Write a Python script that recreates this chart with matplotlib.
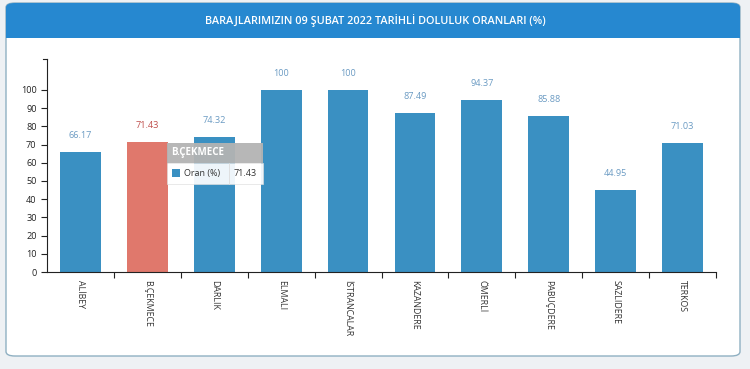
import numpy as np
import matplotlib.pyplot as plt
from matplotlib.patches import FancyBboxPatch, Rectangle

# Data
dams = ['ALİBEY', 'B.ÇEKMECE', 'DARLIK', 'ELMALI', 'İSTRANCALAR',
        'KAZANDERE', 'ÖMERLİ', 'PABUÇDERE', 'SAZLIDERE', 'TERKOS']
oran = [66.17, 71.43, 74.32, 100, 100, 87.49, 94.37, 85.88, 44.95, 71.03]
highlight = 'B.ÇEKMECE'
title = 'BARAJLARIMIZIN 09 ŞUBAT 2022 TARİHLİ DOLULUK ORANLARI (%)'

plt.rcParams['font.family'] = ['Open Sans', 'DejaVu Sans']

W, H = 750, 369
fig = plt.figure(figsize=(7.5, 3.69), dpi=100)
fig.patch.set_facecolor('#eef1f4')

def fx(px):
    return px / W

def fy(py):
    return 1 - py / H

# card
card = FancyBboxPatch((fx(6), fy(356)), fx(740) - fx(6), fy(3) - fy(356),
                      boxstyle='round,pad=0,rounding_size=0.012',
                      transform=fig.transFigure, facecolor='white',
                      edgecolor='#8fb0c2', linewidth=1.0, zorder=-3)
fig.patches.append(card)
# title bar
bar_top = FancyBboxPatch((fx(6), fy(38)), fx(740) - fx(6), fy(3) - fy(38),
                         boxstyle='round,pad=0,rounding_size=0.012',
                         transform=fig.transFigure, facecolor='#2688d0',
                         edgecolor='none', zorder=-2)
fig.patches.append(bar_top)
fig.patches.append(Rectangle((fx(6), fy(38)), fx(740) - fx(6), fy(25) - fy(38),
                             transform=fig.transFigure, facecolor='#2688d0',
                             edgecolor='none', zorder=-2))
fig.text(0.5, fy(21), title, ha='center', va='center', color='white',
         fontsize=7.8, fontweight='semibold')

# axes
ax = fig.add_axes([fx(47), fy(272), fx(716) - fx(47), fy(59) - fy(272)])
ax.set_facecolor('none')
x = np.arange(len(dams))
colors = ['#e0786c' if d == highlight else '#3a90c2' for d in dams]
ax.bar(x, oran, width=0.61, color=colors, zorder=2)

for xi, v, d in zip(x, oran, dams):
    c = '#c0504d' if d == highlight else '#6b9bc3'
    ax.text(xi, v + 9, '{:g}'.format(v), ha='center', va='center',
            fontsize=6.6, color=c)

ax.set_xlim(-0.5, len(dams) - 0.5)
ax.set_ylim(0, 117)
ax.set_yticks(np.arange(0, 101, 10))
ax.tick_params(axis='y', labelsize=6.6, length=4, width=0.8, colors='#222222')
ax.set_xticks(x)
ax.set_xticklabels(dams, rotation=-90, fontsize=6.3, color='#333333')
ax.tick_params(axis='x', length=0, pad=6)
ax.set_xticks(np.arange(0.5, len(dams) - 0.4, 1), minor=True)
ax.tick_params(axis='x', which='minor', length=4, width=0.8, color='#222222')
for s in ['top', 'right']:
    ax.spines[s].set_visible(False)
for s in ['left', 'bottom']:
    ax.spines[s].set_color('#222222')
    ax.spines[s].set_linewidth(0.8)
# outer tick at top of y domain
ax.plot([-0.5 - 0.06, -0.5], [117, 117], color='#222222', lw=0.8,
        clip_on=False)

# tooltip
i = dams.index(highlight)
tx0, tx1 = fx(167), fx(263)
fig.patches.append(Rectangle((tx0, fy(163)), tx1 - tx0, fy(143) - fy(163),
                             transform=fig.transFigure, facecolor='#b3b3b3',
                             edgecolor='none', alpha=0.95, zorder=5))
fig.patches.append(Rectangle((tx0, fy(184)), tx1 - tx0, fy(163) - fy(184),
                             transform=fig.transFigure, facecolor='white',
                             edgecolor='#dddddd', lw=0.5, alpha=0.92, zorder=5))
fig.text(fx(171), fy(153), highlight, color='white', fontsize=7,
         fontweight='bold', va='center', zorder=6)
fig.patches.append(Rectangle((fx(172), fy(177)), fx(8), fy(169) - fy(177),
                             transform=fig.transFigure, facecolor='#3a90c2',
                             edgecolor='none', zorder=6))
fig.text(fx(184), fy(173.5), 'Oran (%)', color='#333333', fontsize=6.5,
         va='center', zorder=6)
fig.lines.append(plt.Line2D([fx(229), fx(229)], [fy(184), fy(163)],
                            transform=fig.transFigure, color='#dddddd',
                            lw=0.6, zorder=6))
fig.text(fx(234), fy(173.5), '{:g}'.format(oran[i]), color='#333333',
         fontsize=6.5, va='center', zorder=6)

fig.savefig('out.png', dpi=100, facecolor=fig.get_facecolor())
